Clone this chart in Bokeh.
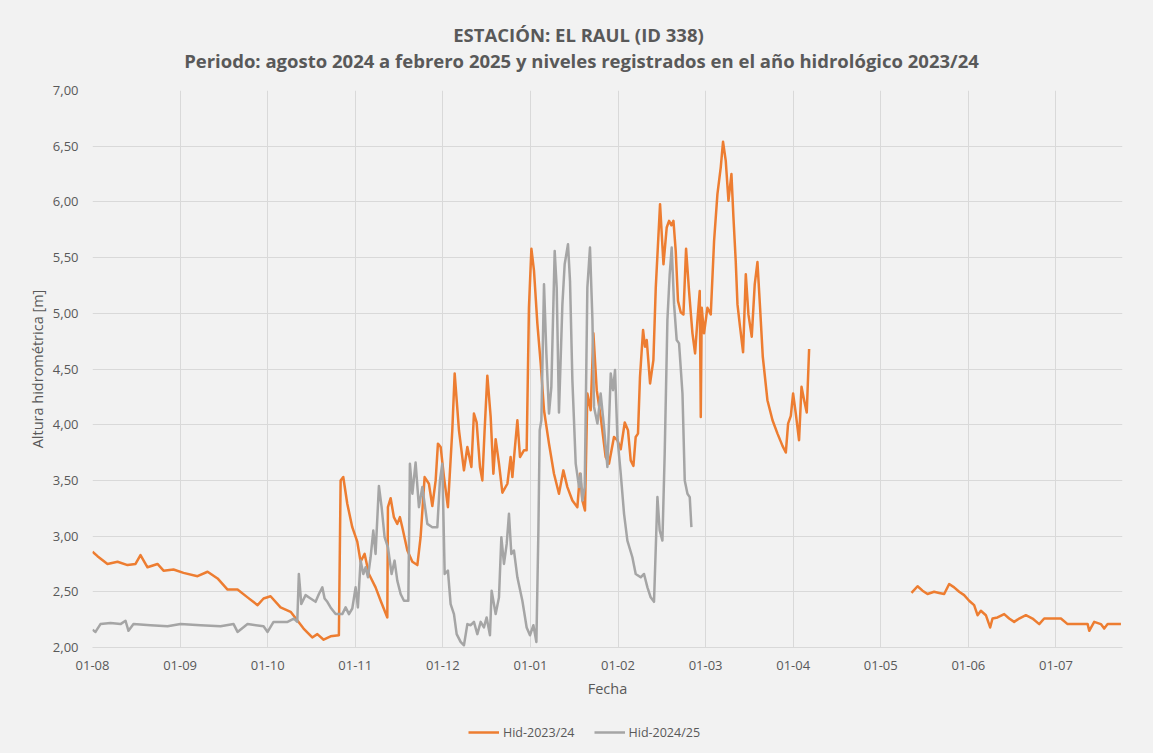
import numpy as np
from bokeh.plotting import figure
from bokeh.layouts import column
from bokeh.models import (Legend, LegendItem, FixedTicker, Range1d, Label,
                          CustomJSTickFormatter)
from bokeh.embed import file_html
from bokeh.resources import INLINE

# ---------------- data (x = months since 01-08, y = level in m) ----------------
month_labels = ["01-08", "01-09", "01-10", "01-11", "01-12", "01-01",
                "01-02", "01-03", "01-04", "01-05", "01-06", "01-07"]
y_ticks = [2.0, 2.5, 3.0, 3.5, 4.0, 4.5, 5.0, 5.5, 6.0, 6.5, 7.0]

# Hid-2023/24, first stretch (Aug - early Apr)
h23_a_x = [0.000, 0.057, 0.171, 0.286, 0.400, 0.491, 0.548, 0.628, 0.742, 0.811,
           0.925, 1.039, 1.199, 1.314, 1.428, 1.542, 1.656, 1.770, 1.885, 1.953,
           2.033, 2.147, 2.262, 2.342, 2.410, 2.509, 2.567, 2.639, 2.718, 2.813,
           2.833, 2.863, 2.909, 2.966, 3.023, 3.061, 3.107, 3.156, 3.232, 3.290,
           3.366, 3.373, 3.404, 3.441, 3.480, 3.510, 3.537, 3.595, 3.652, 3.709,
           3.746, 3.792, 3.841, 3.880, 3.918, 3.944, 3.975, 4.013, 4.058, 4.108,
           4.135, 4.184, 4.241, 4.280, 4.326, 4.355, 4.386, 4.424, 4.451, 4.477,
           4.508, 4.546, 4.577, 4.603, 4.641, 4.680, 4.737, 4.774, 4.794, 4.820,
           4.851, 4.881, 4.926, 4.957, 4.983, 5.011, 5.041, 5.079, 5.117, 5.155,
           5.212, 5.269, 5.326, 5.376, 5.422, 5.479, 5.536, 5.566, 5.593, 5.623,
           5.650, 5.688, 5.719, 5.757, 5.802, 5.859, 5.897, 5.954, 5.993, 6.031,
           6.077, 6.114, 6.145, 6.176, 6.202, 6.228, 6.251, 6.286, 6.308, 6.328,
           6.366, 6.404, 6.431, 6.480, 6.519, 6.556, 6.583, 6.610, 6.633, 6.659,
           6.685, 6.716, 6.747, 6.777, 6.811, 6.850, 6.880, 6.907, 6.933, 6.945,
           6.956, 6.982, 7.021, 7.059, 7.097, 7.135, 7.173, 7.199, 7.230, 7.261,
           7.295, 7.318, 7.344, 7.364, 7.393, 7.428, 7.459, 7.489, 7.527, 7.561,
           7.592, 7.622, 7.653, 7.706, 7.764, 7.821, 7.878, 7.916, 7.942, 7.973,
           7.999, 8.030, 8.067, 8.095, 8.125, 8.155, 8.182]
h23_a_y = [2.86, 2.82, 2.75, 2.77, 2.74, 2.75, 2.83, 2.72, 2.75, 2.69,
           2.70, 2.67, 2.64, 2.68, 2.62, 2.52, 2.52, 2.45, 2.38, 2.44,
           2.46, 2.36, 2.32, 2.24, 2.17, 2.09, 2.12, 2.07, 2.10, 2.11,
           3.50, 3.53, 3.29, 3.08, 2.95, 2.77, 2.84, 2.66, 2.54, 2.42,
           2.27, 3.26, 3.34, 3.17, 3.11, 3.17, 3.08, 2.87, 2.77, 2.74,
           2.99, 3.53, 3.47, 3.27, 3.50, 3.83, 3.80, 3.53, 3.26, 3.95,
           4.46, 3.95, 3.59, 3.80, 3.62, 4.10, 4.02, 3.62, 3.50, 3.95,
           4.44, 4.07, 3.56, 3.87, 3.65, 3.39, 3.47, 3.71, 3.53, 3.77,
           4.04, 3.71, 3.77, 3.77, 5.05, 5.58, 5.38, 4.91, 4.55, 4.13,
           3.83, 3.56, 3.38, 3.59, 3.44, 3.32, 3.26, 3.56, 3.32, 3.23,
           4.28, 4.13, 4.82, 4.31, 4.07, 3.71, 3.65, 3.89, 3.86, 3.78,
           4.02, 3.95, 3.68, 3.63, 3.89, 3.92, 4.43, 4.85, 4.70, 4.76,
           4.37, 4.58, 5.23, 5.98, 5.44, 5.77, 5.83, 5.79, 5.83, 5.56,
           5.11, 5.01, 4.99, 5.58, 5.20, 4.82, 4.64, 4.94, 5.20, 4.07,
           5.05, 4.82, 5.05, 4.99, 5.65, 6.07, 6.31, 6.54, 6.37, 6.01,
           6.25, 5.86, 5.47, 5.08, 4.88, 4.65, 5.35, 4.99, 4.79, 5.26,
           5.46, 5.05, 4.61, 4.22, 4.04, 3.92, 3.81, 3.75, 4.01, 4.08,
           4.28, 4.10, 3.86, 4.34, 4.22, 4.11, 4.68]

# Hid-2023/24, second stretch (mid May - Jul)
h23_b_x = [9.351, 9.420, 9.477, 9.534, 9.609, 9.667, 9.724, 9.781, 9.838, 9.895,
           9.952, 10.009, 10.066, 10.105, 10.143, 10.200, 10.249, 10.276, 10.333,
           10.409, 10.466, 10.523, 10.580, 10.657, 10.733, 10.809, 10.866, 10.942,
           11.057, 11.133, 11.247, 11.362, 11.380, 11.437, 11.513, 11.551, 11.590,
           11.742]
h23_b_y = [2.49, 2.55, 2.51, 2.48, 2.50, 2.49, 2.48, 2.57, 2.54, 2.50,
           2.47, 2.42, 2.38, 2.29, 2.33, 2.29, 2.18, 2.26, 2.27,
           2.30, 2.26, 2.23, 2.26, 2.29, 2.26, 2.21, 2.26, 2.26,
           2.26, 2.21, 2.21, 2.21, 2.15, 2.23, 2.21, 2.17, 2.21,
           2.21]

# Hid-2024/25 (Aug - late Feb)
h24_x = [0.000, 0.034, 0.091, 0.206, 0.320, 0.377, 0.411, 0.468, 0.662, 0.857,
         1.005, 1.234, 1.462, 1.611, 1.656, 1.770, 1.953, 1.999, 2.067, 2.227,
         2.299, 2.338, 2.356, 2.384, 2.433, 2.490, 2.547, 2.585, 2.624, 2.650,
         2.681, 2.718, 2.776, 2.852, 2.890, 2.928, 2.966, 3.004, 3.030, 3.061,
         3.092, 3.118, 3.145, 3.175, 3.206, 3.232, 3.270, 3.301, 3.335, 3.373,
         3.415, 3.449, 3.480, 3.518, 3.556, 3.606, 3.624, 3.652, 3.689, 3.727,
         3.766, 3.792, 3.823, 3.880, 3.937, 3.967, 3.994, 4.021, 4.058, 4.089,
         4.127, 4.158, 4.203, 4.241, 4.280, 4.318, 4.355, 4.394, 4.432, 4.469,
         4.500, 4.538, 4.557, 4.603, 4.641, 4.668, 4.698, 4.729, 4.755, 4.782,
         4.812, 4.851, 4.908, 4.957, 4.995, 5.034, 5.068, 5.091, 5.106, 5.125,
         5.155, 5.182, 5.212, 5.239, 5.277, 5.300, 5.326, 5.365, 5.391, 5.429,
         5.452, 5.479, 5.517, 5.555, 5.574, 5.593, 5.620, 5.650, 5.680, 5.708,
         5.726, 5.765, 5.802, 5.840, 5.879, 5.917, 5.943, 5.966, 5.993, 6.031,
         6.069, 6.107, 6.164, 6.202, 6.259, 6.297, 6.336, 6.373, 6.411, 6.450,
         6.476, 6.507, 6.533, 6.564, 6.590, 6.613, 6.640, 6.670, 6.697, 6.736,
         6.762, 6.793, 6.819, 6.838]
h24_y = [2.16, 2.14, 2.21, 2.22, 2.21, 2.24, 2.15, 2.21, 2.20, 2.19,
         2.21, 2.20, 2.19, 2.21, 2.14, 2.21, 2.19, 2.14, 2.23, 2.23,
         2.26, 2.23, 2.66, 2.39, 2.47, 2.44, 2.41, 2.48, 2.54, 2.44,
         2.41, 2.36, 2.30, 2.30, 2.36, 2.30, 2.35, 2.54, 2.36, 2.78,
         2.66, 2.72, 2.63, 2.81, 3.05, 2.84, 3.45, 3.26, 2.99, 2.90,
         2.66, 2.78, 2.60, 2.48, 2.42, 2.42, 3.65, 3.38, 3.66, 3.26,
         3.44, 3.29, 3.11, 3.08, 3.08, 3.50, 3.65, 2.66, 2.69, 2.39,
         2.30, 2.12, 2.05, 2.02, 2.21, 2.20, 2.23, 2.12, 2.23, 2.18,
         2.27, 2.11, 2.51, 2.30, 2.45, 2.99, 2.75, 2.93, 3.20, 2.84,
         2.87, 2.63, 2.42, 2.18, 2.11, 2.20, 2.05, 3.05, 3.95, 4.04,
         5.26, 4.64, 4.10, 4.34, 5.56, 5.23, 4.11, 5.08, 5.44, 5.62,
         5.29, 4.40, 3.65, 3.44, 3.56, 3.32, 3.44, 5.23, 5.59, 4.94,
         4.16, 4.01, 4.28, 3.98, 3.62, 4.46, 4.31, 4.49, 3.89, 3.56,
         3.20, 2.96, 2.81, 2.66, 2.63, 2.66, 2.54, 2.45, 2.41, 3.35,
         3.05, 2.96, 3.74, 4.94, 5.35, 5.59, 5.08, 4.76, 4.73, 4.28,
         3.50, 3.38, 3.35, 3.08]

series_names = ["Hid-2023/24", "Hid-2024/25"]
series_colors = ["#ED7D31", "#A5A5A5"]
title_lines = ["ESTACIÓN: EL RAUL (ID 338)",
               "Periodo: agosto 2024 a febrero 2025 y niveles registrados en el año hidrológico 2023/24"]

# ---------------- styling ----------------
TXT = "#595959"
BG = "#F2F2F2"
GRID = "#D9D9D9"
W = 1153
H_TITLE, H_MAIN, H_LEG = 80, 630, 43
B_LEFT, B_RIGHT = 92, 31
FRAME_R = W - B_RIGHT


def blank_fig(h):
    # helper strip whose x data units equal page pixels
    f = figure(width=W, height=h, output_backend="svg", toolbar_location=None,
               x_range=Range1d(B_LEFT, FRAME_R), y_range=Range1d(0, h),
               x_axis_type=None, y_axis_type=None,
               min_border_left=B_LEFT, min_border_right=B_RIGHT,
               min_border_top=0, min_border_bottom=0,
               background_fill_color=BG, border_fill_color=BG)
    f.outline_line_color = None
    f.grid.visible = False
    return f


# ---------------- title block ----------------
t_fig = blank_fig(H_TITLE)
t_fig.add_layout(Label(x=578, y=H_TITLE - 34, text=title_lines[0],
                       text_align="center", text_baseline="middle",
                       text_font="Open Sans", text_font_style="bold",
                       text_font_size="18.5px", text_color=TXT))
t_fig.add_layout(Label(x=581, y=H_TITLE - 60, text=title_lines[1],
                       text_align="center", text_baseline="middle",
                       text_font="Open Sans", text_font_style="bold",
                       text_font_size="18.5px", text_color=TXT))

# ---------------- main chart ----------------
p = figure(width=W, height=H_MAIN, output_backend="svg", toolbar_location=None,
           x_range=Range1d(0, 11.76), y_range=Range1d(2, 7),
           min_border_left=B_LEFT, min_border_right=B_RIGHT,
           min_border_top=10, min_border_bottom=63,
           background_fill_color=BG, border_fill_color=BG)
p.outline_line_color = None

p.xaxis.ticker = FixedTicker(ticks=list(range(len(month_labels))))
p.xaxis.formatter = CustomJSTickFormatter(args=dict(labels=month_labels),
                                          code="return labels[Math.round(tick)];")
p.yaxis.ticker = FixedTicker(ticks=y_ticks)
p.yaxis.formatter = CustomJSTickFormatter(code="return tick.toFixed(2).replace('.', ',');")

for ax in (p.xaxis, p.yaxis):
    ax.major_tick_line_color = None
    ax.minor_tick_line_color = None
    ax.major_tick_out = 0
    ax.major_tick_in = 0
    ax.minor_tick_out = 0
    ax.major_label_text_font = "Open Sans"
    ax.major_label_text_font_size = "13px"
    ax.major_label_text_color = TXT
    ax.axis_label_text_font = "Open Sans"
    ax.axis_label_text_font_size = "14.5px"
    ax.axis_label_text_font_style = "normal"
    ax.axis_label_text_color = TXT

p.xaxis.axis_line_color = GRID
p.yaxis.axis_line_color = None
p.xaxis.major_label_standoff = 13
p.yaxis.major_label_standoff = 14
p.xaxis.axis_label = "Fecha"
p.yaxis.axis_label = "Altura hidrométrica [m]"
p.xaxis.axis_label_standoff = 6
p.yaxis.axis_label_standoff = 3

p.xgrid.grid_line_color = GRID
p.ygrid.grid_line_color = GRID

p.line(h23_a_x, h23_a_y, line_color=series_colors[0], line_width=2.5, line_join="round")
p.line(h23_b_x, h23_b_y, line_color=series_colors[0], line_width=2.5, line_join="round")
p.line(h24_x, h24_y, line_color=series_colors[1], line_width=2.5, line_join="round")

# ---------------- legend row ----------------
l_fig = blank_fig(H_LEG)
nan = np.array([np.nan])
k_a = l_fig.line(nan, nan, line_color=series_colors[0], line_width=2.5)
k_g = l_fig.line(nan, nan, line_color=series_colors[1], line_width=2.5)
legend = Legend(items=[LegendItem(label=series_names[0], renderers=[k_a]),
                       LegendItem(label=series_names[1], renderers=[k_g])],
                orientation="horizontal", location=(468 - B_LEFT, 11),
                padding=0, margin=0, spacing=19, glyph_width=31, glyph_height=20,
                label_standoff=4, background_fill_alpha=0, border_line_color=None,
                label_text_font="Open Sans", label_text_font_size="12.5px",
                label_text_color=TXT)
l_fig.add_layout(legend)

layout = column(t_fig, p, l_fig, spacing=0,
                styles={"background-color": BG})
open("out.html", "w").write(file_html(layout, INLINE))
